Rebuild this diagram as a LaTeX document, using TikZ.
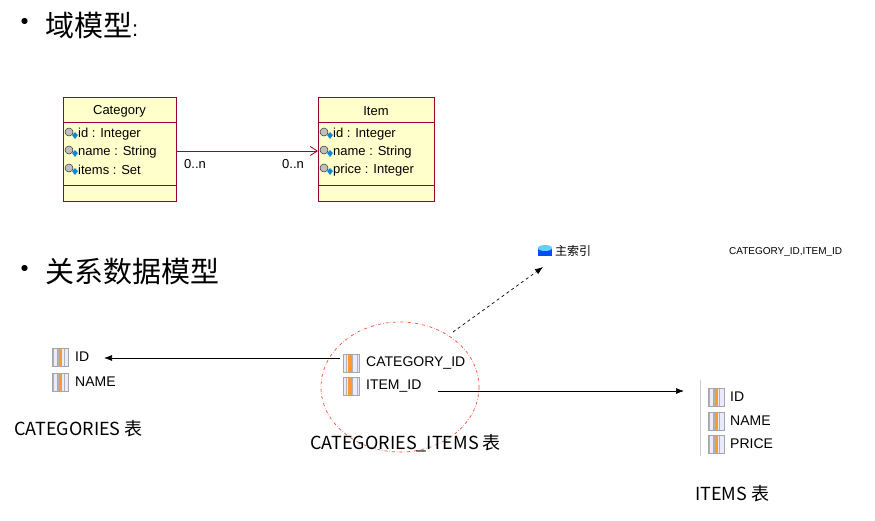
\documentclass[tikz,border=0pt]{standalone}
\usepackage{fontspec}
\setmainfont{Liberation Sans}
\newfontfamily\cjk{Noto Sans CJK SC}
\usetikzlibrary{arrows.meta,calc}
\definecolor{umlfill}{RGB}{255,255,204}
\definecolor{umlline}{RGB}{153,0,51}
\definecolor{dashred}{RGB}{240,80,50}
\tikzset{
  x=1pt,y=-1pt,
  umlbox/.style={draw=umlline,fill=umlfill,line width=0.8pt},
  attr/.style={anchor=west,inner sep=0pt,font=\fontsize{13}{13}\selectfont},
  col/.style={anchor=west,inner sep=0pt,font=\fontsize{14}{14}\selectfont},
  tcaption/.style={anchor=west,inner sep=0pt,font=\cjk\fontsize{18}{18}\selectfont},
  title/.style={anchor=west,inner sep=0pt,font=\cjk\fontsize{29}{29}\selectfont},
  conn/.style={-{Latex[length=8pt,width=6pt]},line width=0.7pt},
}
\newcommand{\colicon}[1]{%
  \fill[blue!8] ($(#1)+(-8,-9)$) rectangle ($(#1)+(8,9)$);
  \fill[orange!80] ($(#1)+(-3,-9)$) rectangle ($(#1)+(2,9)$);
  \draw[gray!60,line width=0.4pt] ($(#1)+(-8,-9)$) grid[xstep=5.33,ystep=6] ($(#1)+(8,9)$);
  \draw[gray!70,line width=0.5pt] ($(#1)+(-8,-9)$) rectangle ($(#1)+(8,9)$);}
\newcommand{\lockicon}[1]{%
  \draw[gray!40!black,fill=gray!50,line width=0.5pt] ($(#1)+(-2,-2)$) circle (4);
  \fill[cyan!70!blue] ($(#1)+(4,-2)$) -- ($(#1)+(7,1)$) -- ($(#1)+(4,5)$) -- ($(#1)+(1,1)$) -- cycle;}
\begin{document}
\begin{tikzpicture}
\useasboundingbox[fill=white] (0,0) rectangle (875,520);
% titles
\node[title] (b1) at (10,25) {•};
\node[title] (t1) at (45,25) {域模型\rmfamily\fontsize{22}{22}\selectfont:};
\node[title] (b2) at (10,272) {•};
\node[title] (t2) at (45,272) {关系数据模型};
% UML Category
\draw[umlbox] (63,97) rectangle (176,201);
\draw[umlline,line width=0.8pt] (63,122) -- (176,122) (63,185) -- (176,185);
\node[attr,anchor=center] (cat) at (119.5,111) {Category};
\foreach \y/\t in {134/id : Integer,152/name : String,170/items : Set}{
  \coordinate (L) at (71,\y); \lockicon{L}
  \node[attr] at (78,\y) {\t};}
% UML Item
\draw[umlbox] (318,97) rectangle (434,201);
\draw[umlline,line width=0.8pt] (318,122) -- (434,122) (318,185) -- (434,185);
\node[attr,anchor=center] (item) at (376,111) {Item};
\foreach \y/\t in {134/id : Integer,152/name : String,170/price : Integer}{
  \coordinate (L) at (326,\y); \lockicon{L}
  \node[attr] at (333,\y) {\t};}
\coordinate (a1) at (176,151); \coordinate (a2) at (318,151);
\draw[umlline,line width=0.8pt,-{Straight Barb[length=7pt,width=9pt]}] (a1) -- (a2);
\node[attr] (m1) at (184,164) {0..n};
\node[attr] (m2) at (282,164) {0..n};
% index
\fill[blue!70!cyan] (538,248) rectangle (552,256);
\fill[cyan!60] (545,248) ellipse (7 and 3);
\node[anchor=west,inner sep=0pt,font=\cjk\fontsize{12}{12}\selectfont] (idx) at (555,251) {主索引};
\node[anchor=west,inner sep=0pt,font=\fontsize{10}{10}\selectfont] (pk) at (729,252) {CATEGORY\_ID,ITEM\_ID};
% left table
\coordinate (i1) at (60,357); \colicon{i1}
\coordinate (i2) at (60,382); \colicon{i2}
\node[col] (lid) at (75,357) {ID};
\node[col] (lname) at (75,382) {NAME};
\node[tcaption] (lcap) at (14,429) {CATEGORIES 表};
% middle
\coordinate (i3) at (351,363); \colicon{i3}
\coordinate (i4) at (351,386); \colicon{i4}
\node[col] (mcid) at (366,363) {CATEGORY\_ID};
\node[col] (miid) at (366,386) {ITEM\_ID};
\draw[dashred,dash dot,line width=0.7pt] (400,387) ellipse (79 and 65);
\node[tcaption] (mcap) at (310,443) {CATEGORIES\_ITEMS 表};
% right table
\draw[gray!40,line width=0.6pt] (700,380) -- (700,456);
\coordinate (i5) at (716,397); \colicon{i5}
\coordinate (i6) at (716,421); \colicon{i6}
\coordinate (i7) at (716,444); \colicon{i7}
\node[col] (rid) at (730,397) {ID};
\node[col] (rname) at (730,421) {NAME};
\node[col] (rprice) at (730,444) {PRICE};
\node[tcaption] (rcap) at (695,494) {ITEMS 表};
% connectors
\coordinate (c1) at (340,358); \coordinate (c2) at (104,358);
\draw[conn] (c1) -- (c2);
\coordinate (c3) at (438,391); \coordinate (c4) at (684,391);
\draw[conn] (c3) -- (c4);
\coordinate (c5) at (453,332); \coordinate (c6) at (543,267);
\draw[conn,dashed] (c5) -- (c6);
\end{tikzpicture}
\end{document}
